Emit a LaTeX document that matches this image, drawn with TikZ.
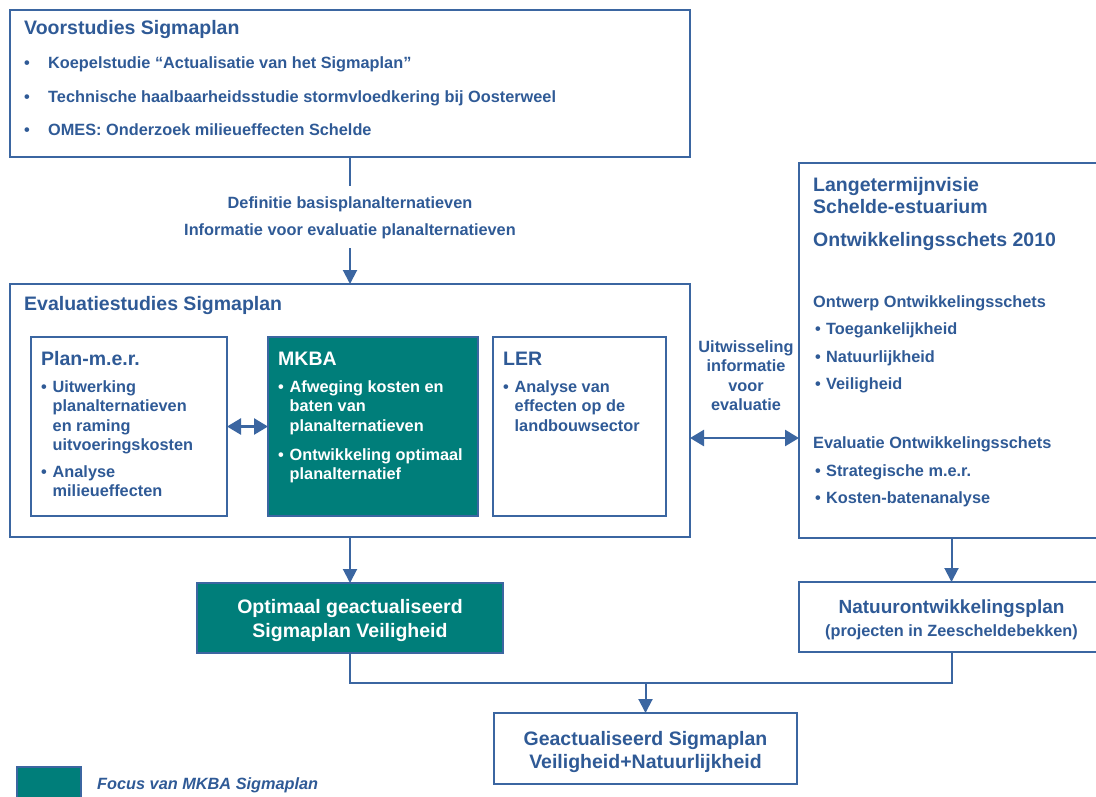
\documentclass[tikz,border=0pt]{standalone}
\usepackage{fontspec}
\setmainfont{Liberation Sans}
\usetikzlibrary{arrows.meta, positioning, calc}

\definecolor{SigBlue}{HTML}{2F5A96}
\definecolor{FrameBlue}{HTML}{3B66A1}
\definecolor{FocusTeal}{HTML}{007E7A}

\newcommand{\titlefont}{\bfseries\fontsize{19.5}{22}\selectfont}
\newcommand{\itemfont}{\bfseries\fontsize{16.3}{19.5}\selectfont}
\newcommand{\bul}[2]{\makebox[#1][l]{\textbullet}\begin{tabular}[t]{@{}l@{}}#2\end{tabular}}

\begin{document}
\begin{tikzpicture}[x=1pt, y=-1pt, text=SigBlue]
    \tikzset{BoxStyle/.style = {draw=FrameBlue, line width=2.2pt, inner sep=0pt, outer sep=0pt, anchor=north west}}
    \tikzset{FocusStyle/.style = {BoxStyle, fill=FocusTeal}}
    \tikzset{TitleStyle/.style = {font=\titlefont, anchor=base west, inner sep=0pt, text width=#1, align=flush left}}
    \tikzset{ItemStyle/.style = {font=\itemfont, anchor=base west, inner sep=0pt, text width=#1, align=flush left}}
    \tikzset{MidStyle/.style = {anchor=base, inner sep=0pt, text width=#1, align=flush center}}
    \tikzset{EdgeStyle/.style = {draw=FrameBlue, line width=2pt, -{Triangle[length=14pt, width=14pt]}}}
    \tikzset{EdgeStyleNoArrow/.style = {draw=FrameBlue, line width=2pt}}
    \tikzset{EdgeStyleBoth/.style = {draw=FrameBlue, line width=2.6pt, {Triangle[length=14pt, width=16pt]}-{Triangle[length=14pt, width=16pt]}}}
    \useasboundingbox (0,0) rectangle (1096,796);
    \clip (0,0) rectangle (1096,796);
    % Voorstudies
    \node[BoxStyle, minimum width=680, minimum height=147] (vs) at (10,10) {};
    \node[TitleStyle=600] (vsT) at (24,34) {Voorstudies Sigmaplan};
    \node[ItemStyle=640] (vs1) at (24,68) {\bul{24pt}{Koepelstudie “Actualisatie van het Sigmaplan”}};
    \node[ItemStyle=640] (vs2) at (24,102) {\bul{24pt}{Technische haalbaarheidsstudie stormvloedkering bij Oosterweel}};
    \node[ItemStyle=640] (vs3) at (24,135) {\bul{24pt}{OMES: Onderzoek milieueffecten Schelde}};
    \node[MidStyle=380, font=\itemfont, inner ysep=9.5pt] (lbl) at (350,208) {Definitie basisplanalternatieven\\[7.5pt]Informatie voor evaluatie planalternatieven};
    % Evaluatiestudies
    \node[BoxStyle, minimum width=680, minimum height=253] (eval) at (10,284) {};
    \node[TitleStyle=600] (evalT) at (24,310) {Evaluatiestudies Sigmaplan};
    \node[BoxStyle, minimum width=196, minimum height=179] (plan) at (31,337) {};
    \node[TitleStyle=180] (planT) at (41,365) {Plan-m.e.r.};
    \node[ItemStyle=180] (plan1) at (41,392) {\bul{11.5pt}{Uitwerking\\planalternatieven\\en raming\\uitvoeringskosten}};
    \node[ItemStyle=180] (plan2) at (41,477) {\bul{11.5pt}{Analyse\\milieueffecten}};
    \node[FocusStyle, minimum width=210, minimum height=179] (mkba) at (268,337) {};
    \node[TitleStyle=195, text=white] (mkbaT) at (278,365) {MKBA};
    \node[ItemStyle=195, text=white] (mkba1) at (278,392) {\bul{11.5pt}{Afweging kosten en\\baten van\\planalternatieven}};
    \node[ItemStyle=195, text=white] (mkba2) at (278,460) {\bul{11.5pt}{Ontwikkeling optimaal\\planalternatief}};
    \node[BoxStyle, minimum width=173, minimum height=179] (ler) at (493,337) {};
    \node[TitleStyle=160] (lerT) at (503,365) {LER};
    \node[ItemStyle=160] (ler1) at (503,392) {\bul{11.5pt}{Analyse van\\effecten op de\\landbouwsector}};
    % Langetermijnvisie
    \node[BoxStyle, minimum width=305, minimum height=375] (lange) at (799,163) {};
    \node[TitleStyle=280] (langeT) at (813,191) {Langetermijnvisie\\Schelde-estuarium};
    \node[TitleStyle=280] (langeO) at (813,246) {Ontwikkelingsschets 2010};
    \node[ItemStyle=280] (ontw) at (813,307) {Ontwerp Ontwikkelingsschets};
    \node[ItemStyle=270] (ontw1) at (815,334) {\bul{11pt}{Toegankelijkheid}};
    \node[ItemStyle=270] (ontw2) at (815,362) {\bul{11pt}{Natuurlijkheid}};
    \node[ItemStyle=270] (ontw3) at (815,389) {\bul{11pt}{Veiligheid}};
    \node[ItemStyle=280] (evo) at (813,448) {Evaluatie Ontwikkelingsschets};
    \node[ItemStyle=270] (evo1) at (815,476) {\bul{11pt}{Strategische m.e.r.}};
    \node[ItemStyle=270] (evo2) at (815,503) {\bul{11pt}{Kosten-batenanalyse}};
    \node[MidStyle=110, font=\itemfont] (uitw) at (746,352) {Uitwisseling\\informatie\\voor\\evaluatie};
    \coordinate (xchg) at (744,438);
    % Resultaten
    \node[FocusStyle, minimum width=306, minimum height=70] (opt) at (197,583) {};
    \node[MidStyle=300, font=\titlefont, text=white] (optT) at (350,613) {Optimaal geactualiseerd\\[2pt]Sigmaplan Veiligheid};
    \node[BoxStyle, minimum width=305, minimum height=70] (nat) at (799,582) {};
    \node[MidStyle=300, font=\bfseries\fontsize{19}{23}\selectfont] (natT) at (951.5,613) {Natuurontwikkelingsplan};
    \node[MidStyle=300, font=\itemfont] (natS) at (951.5,636) {(projecten in Zeescheldebekken)};
    \node[BoxStyle, minimum width=303, minimum height=71] (geact) at (494,713) {};
    \node[MidStyle=300, font=\bfseries\fontsize{19.5}{23}\selectfont] (geactT) at (645.5,745) {Geactualiseerd Sigmaplan\\Veiligheid+Natuurlijkheid};
    \coordinate (merge) at (645.5,683);
    % Legenda
    \node[FocusStyle, minimum width=64, minimum height=40] (leg) at (17,767) {};
    \node[anchor=base west, inner sep=0pt, font=\bfseries\itshape\fontsize{16.3}{19.5}\selectfont] (legT) at (97,789) {Focus van MKBA Sigmaplan};
    % verbindingen
    \draw[EdgeStyleNoArrow] (vs.south) -- (lbl.north);
    \draw[EdgeStyle] (lbl.south) -- (eval.north);
    \draw[EdgeStyleBoth] (plan.east) -- (mkba.west);
    \draw[EdgeStyleBoth] (eval.east |- xchg) -- (lange.west |- xchg);
    \draw[EdgeStyle] (eval.south -| opt.north) -- (opt.north);
    \draw[EdgeStyle] (lange.south) -- (nat.north);
    \draw[EdgeStyleNoArrow] (opt.south) |- (merge) -| (nat.south);
    \draw[EdgeStyle] (merge) -- (geact.north);
\end{tikzpicture}
\end{document}
